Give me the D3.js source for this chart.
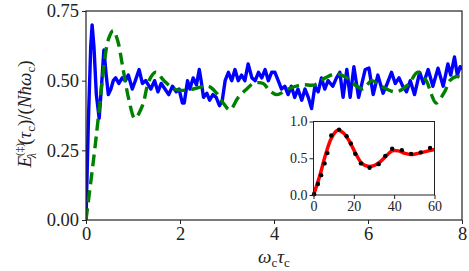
<!DOCTYPE html>
<html>
<head>
<meta charset="utf-8">
<script src="https://cdn.jsdelivr.net/npm/d3@7"></script>
<style>
  body { margin: 0; background: #fff; }
</style>
</head>
<body>
<script>
var w = 469;
var h = 271;

// main panel: blue (full) and green dashed curves
var blueX = [0.00,0.05,0.10,0.13,0.17,0.22,0.28,0.33,0.38,0.43,0.475,0.53,0.58,0.63,0.70,0.77,0.84,0.90,0.985,1.05,
  1.13,1.20,1.27,1.38,1.46,1.53,1.60,1.68,1.76,1.84,1.92,1.98,2.05,2.09,2.16,2.21,2.28,2.35,2.41,2.45,
  2.50,2.57,2.63,2.70,2.77,2.84,2.90,2.96,3.03,3.10,3.17,3.24,3.31,3.38,3.45,3.53,3.60,3.67,3.74,3.81,
  3.88,3.95,4.02,4.09,4.16,4.23,4.30,4.37,4.44,4.51,4.59,4.66,4.73,4.80,4.87,4.94,5.01,5.08,5.15,5.25,
  5.33,5.40,5.47,5.55,5.62,5.70,5.80,5.94,6.02,6.11,6.21,6.32,6.41,6.50,6.58,6.66,6.74,6.82,6.90,6.99,
  7.10,7.18,7.28,7.38,7.49,7.60,7.70,7.76,7.84,7.90,7.96,8.00];
var blueY = [0.00,0.35,0.62,0.70,0.62,0.45,0.365,0.48,0.61,0.52,0.45,0.47,0.50,0.51,0.49,0.51,0.50,0.52,0.47,0.50,
  0.54,0.49,0.50,0.47,0.50,0.46,0.49,0.47,0.45,0.48,0.46,0.47,0.42,0.42,0.50,0.47,0.51,0.485,0.54,0.50,
  0.44,0.455,0.43,0.45,0.44,0.41,0.43,0.50,0.53,0.50,0.54,0.50,0.52,0.50,0.56,0.51,0.50,0.53,0.51,0.54,
  0.50,0.53,0.53,0.50,0.47,0.48,0.45,0.48,0.44,0.47,0.43,0.47,0.44,0.40,0.48,0.46,0.51,0.47,0.50,0.48,
  0.51,0.53,0.44,0.54,0.44,0.55,0.44,0.54,0.545,0.45,0.52,0.455,0.49,0.53,0.49,0.51,0.48,0.46,0.50,0.45,
  0.53,0.49,0.54,0.48,0.545,0.48,0.56,0.52,0.585,0.52,0.55,0.54];

var greenX = [0.00,0.17,0.28,0.38,0.48,0.58,0.68,0.77,0.915,1.04,1.20,1.34,1.48,1.66,1.87,2.05,2.28,2.60,2.78,2.92,
  3.06,3.24,3.42,3.56,3.77,3.90,4.06,4.30,4.59,4.87,5.09,5.33,5.55,5.76,5.90,6.08,6.28,6.60,6.85,7.06,
  7.24,7.35,7.45,7.63,7.74,7.88,8.00];
var greenY = [0.00,0.23,0.395,0.55,0.65,0.68,0.64,0.56,0.43,0.365,0.41,0.50,0.53,0.50,0.47,0.465,0.47,0.48,0.455,0.42,
  0.395,0.44,0.47,0.49,0.49,0.465,0.45,0.47,0.485,0.485,0.51,0.525,0.51,0.48,0.47,0.50,0.48,0.46,0.485,0.53,
  0.50,0.45,0.42,0.46,0.50,0.515,0.51];

// inset: red line and black dots
var redX = [0,3,6,9,12,15,18,21,24,27,30,33,36,39,42,45,48,51,54,57,60];
var redY = [0.00,0.25,0.55,0.78,0.88,0.84,0.72,0.56,0.43,0.39,0.40,0.45,0.53,0.60,0.60,0.57,0.55,0.56,0.58,0.60,0.62];
var dotX = [0.3,2.2,3.8,5.5,6.9,8.8,12.7,16.4,18.5,20.7,23.5,27.8,32.3,35.6,39.0,43.8,48.4,53.2,57.8];
var dotY = [0.01,0.15,0.27,0.43,0.57,0.81,0.89,0.80,0.70,0.56,0.43,0.37,0.42,0.53,0.63,0.61,0.56,0.58,0.64];

var xTicks = [0, 2, 4, 6, 8];
var yTicks = [0, 0.25, 0.5, 0.75];
var insetXTicks = [0, 20, 40, 60];
var insetYTicks = [0, 0.5, 1.0];

var serif = "Liberation Serif";

var svg = d3.select("body").append("svg").attr("width", w).attr("height", h)
  .style("font-family", serif);

var x = d3.scaleLinear().domain([0, 8]).range([86, 462]);
var y = d3.scaleLinear().domain([0, 0.75]).range([220, 11]);

function zip(a, b) { return a.map((d, i) => [d, b[i]]); }

var line = d3.line().x(d => x(d[0])).y(d => y(d[1]));

svg.append("defs").append("clipPath").attr("id", "clip")
  .append("rect").attr("x", 86).attr("y", 11).attr("width", 376).attr("height", 209);

var plot = svg.append("g").attr("clip-path", "url(#clip)");

plot.append("path")
  .attr("d", line(zip(blueX, blueY)))
  .attr("fill", "none").attr("stroke", "#0000ff").attr("stroke-width", 3.4)
  .attr("stroke-linejoin", "round");

plot.append("path")
  .attr("d", line.curve(d3.curveCatmullRom)(zip(greenX, greenY)))
  .attr("fill", "none").attr("stroke", "#008000").attr("stroke-width", 3.4)
  .attr("stroke-dasharray", "12,6");

// main frame and axes
svg.append("rect").attr("x", 86).attr("y", 11).attr("width", 376).attr("height", 209)
  .attr("fill", "none").attr("stroke", "#222").attr("stroke-width", 1.2);

var xAxis = svg.append("g").attr("transform", "translate(0,220)")
  .call(d3.axisBottom(x).tickValues(xTicks).tickSize(4).tickPadding(3).tickFormat(d3.format("d")));
var yAxis = svg.append("g").attr("transform", "translate(86,0)")
  .call(d3.axisLeft(y).tickValues(yTicks).tickSize(4).tickPadding(3).tickFormat(d3.format(".2f")));
[xAxis, yAxis].forEach(g => {
  g.attr("font-family", null).attr("font-size", null);
  g.select(".domain").remove();
  g.selectAll("line").attr("stroke", "#222");
  g.selectAll("text").style("font-family", serif).style("font-size", "18.5px").attr("fill", "#222");
});

// x label
var xl = svg.append("text").attr("x", 274).attr("y", 263).attr("text-anchor", "middle")
  .style("font-size", "19px").attr("fill", "#222");
xl.append("tspan").style("font-style", "italic").text("ω");
xl.append("tspan").attr("dy", 4).style("font-size", "13px").text("c");
xl.append("tspan").attr("dy", -4).style("font-style", "italic").text("τ");
xl.append("tspan").attr("dy", 4).style("font-size", "13px").text("c");

// y label
var yl = svg.append("text").attr("transform", "translate(31,114) rotate(-90)")
  .attr("text-anchor", "middle").style("font-size", "19px").attr("fill", "#222");
yl.append("tspan").style("font-style", "italic").text("E");
yl.append("tspan").attr("dy", -8).style("font-size", "11px").text("(‡)");
yl.append("tspan").attr("dx", -15).attr("dy", 13).style("font-size", "12px").style("font-style", "italic").text("λ");
yl.append("tspan").attr("dx", 8).attr("dy", -5).text("(");
yl.append("tspan").style("font-style", "italic").text("τ");
yl.append("tspan").attr("dy", 4).style("font-size", "13px").text("c");
yl.append("tspan").attr("dy", -4).text(")/(");
yl.append("tspan").style("font-style", "italic").text("Nħω");
yl.append("tspan").attr("dy", 4).style("font-size", "13px").text("c");
yl.append("tspan").attr("dy", -4).text(")");

// inset
var ix = d3.scaleLinear().domain([0, 60]).range([313.5, 434.5]);
var iy = d3.scaleLinear().domain([0, 1]).range([195, 121.5]);

svg.append("rect").attr("x", 313.5).attr("y", 121.5).attr("width", 121).attr("height", 73.5)
  .attr("fill", "#fff").attr("stroke", "none");

svg.append("path")
  .attr("d", d3.line().x(d => ix(d[0])).y(d => iy(d[1])).curve(d3.curveCatmullRom)(zip(redX, redY)))
  .attr("fill", "none").attr("stroke", "#ff0000").attr("stroke-width", 3.5);

svg.selectAll("circle.dot")
  .data(zip(dotX, dotY)).enter()
  .append("circle").attr("class", "dot")
  .attr("cx", d => ix(d[0]))
  .attr("cy", d => iy(d[1]))
  .attr("r", 2.2)
  .attr("fill", "#000");

svg.append("rect").attr("x", 313.5).attr("y", 121.5).attr("width", 121).attr("height", 73.5)
  .attr("fill", "none").attr("stroke", "#222").attr("stroke-width", 1);

var ixAxis = svg.append("g").attr("transform", "translate(0,195)")
  .call(d3.axisBottom(ix).tickValues(insetXTicks).tickSize(4).tickPadding(2).tickFormat(d3.format("d")));
var iyAxis = svg.append("g").attr("transform", "translate(313.5,0)")
  .call(d3.axisLeft(iy).tickValues(insetYTicks).tickSize(4).tickPadding(2).tickFormat(d3.format(".1f")));
[ixAxis, iyAxis].forEach(g => {
  g.attr("font-family", null).attr("font-size", null);
  g.select(".domain").remove();
  g.selectAll("line").attr("stroke", "#222");
  g.selectAll("text").style("font-family", serif).style("font-size", "14px").attr("fill", "#222");
});
</script>
</body>
</html>
